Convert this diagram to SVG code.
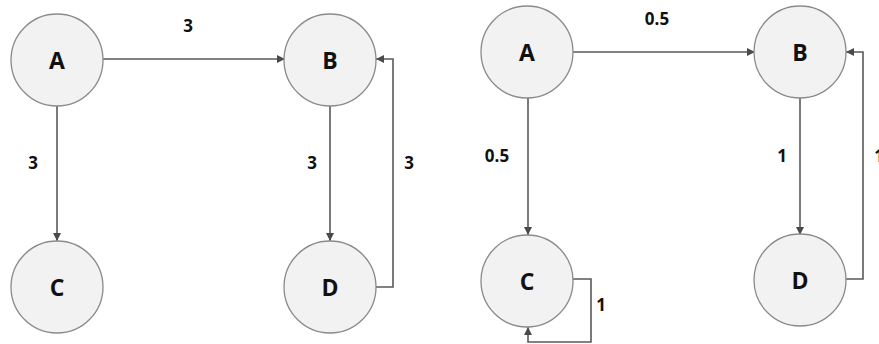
<svg xmlns="http://www.w3.org/2000/svg" width="879" height="344" viewBox="0 0 879 344">
<style>
.node circle{fill:#f2f2f2;stroke:#8a8a8a;stroke-width:1.3}
.node text{font-family:"Open Sans","Liberation Sans",sans-serif;font-weight:bold;font-size:23px;fill:#111;text-anchor:middle;dominant-baseline:central}
.edges path{fill:none;stroke:#595959;stroke-width:1.6}
.lbl{font-family:"Open Sans","Liberation Sans",sans-serif;font-weight:bold;font-size:17px;fill:#111;text-anchor:middle;dominant-baseline:central}
</style>
<defs>
<marker id="ah" viewBox="0 0 10 10" refX="10" refY="5" markerWidth="8" markerHeight="8" markerUnits="userSpaceOnUse" orient="auto">
<path d="M0,0 L10,5 L0,10 Z" fill="#4a4a4a"/>
</marker>
</defs>
<rect width="879" height="344" fill="#fff"/>
<g class="edges">
<path d="M103,59 H285" marker-end="url(#ah)"/>
<path d="M57,106 V241" marker-end="url(#ah)"/>
<path d="M330,106 V241" marker-end="url(#ah)"/>
<path d="M376,287 H393 V59 H376" marker-end="url(#ah)"/>
<path d="M573,52 H755" marker-end="url(#ah)"/>
<path d="M528,98 V235" marker-end="url(#ah)"/>
<path d="M800,98 V235" marker-end="url(#ah)"/>
<path d="M846,279 H863 V52 H846" marker-end="url(#ah)"/>
<path d="M573,279 H591 V342 H528 V327" marker-end="url(#ah)"/>
</g>
<g class="labels">
<text class="lbl" x="188" y="25">3</text>
<text class="lbl" x="33" y="162">3</text>
<text class="lbl" x="312" y="162">3</text>
<text class="lbl" x="409" y="162">3</text>
<text class="lbl" x="657" y="18">0.5</text>
<text class="lbl" x="497" y="155">0.5</text>
<text class="lbl" x="782" y="155">1</text>
<text class="lbl" x="879" y="155">1</text>
<text class="lbl" x="601" y="304">1</text>
</g>
<g id="L-A" class="node"><circle cx="57" cy="60" r="46"/><text x="57" y="60">A</text></g>
<g id="L-B" class="node"><circle cx="330" cy="60" r="46"/><text x="330" y="60">B</text></g>
<g id="L-C" class="node"><circle cx="57" cy="287" r="46"/><text x="57" y="287">C</text></g>
<g id="L-D" class="node"><circle cx="330" cy="287" r="46"/><text x="330" y="287">D</text></g>
<g id="R-A" class="node"><circle cx="527" cy="52" r="46"/><text x="527" y="52">A</text></g>
<g id="R-B" class="node"><circle cx="800" cy="52" r="46"/><text x="800" y="52">B</text></g>
<g id="R-C" class="node"><circle cx="527" cy="281" r="46"/><text x="527" y="281">C</text></g>
<g id="R-D" class="node"><circle cx="800" cy="280" r="46"/><text x="800" y="280">D</text></g>
</svg>
